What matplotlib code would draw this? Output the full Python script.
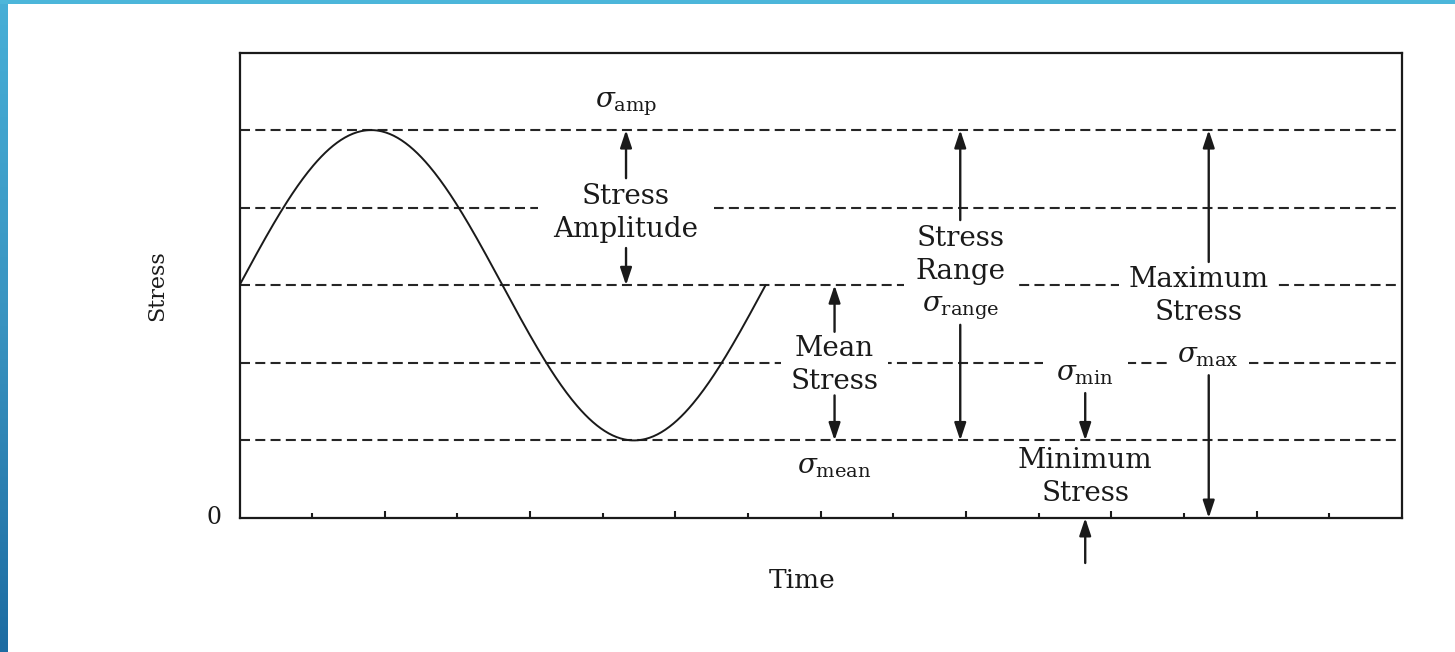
import numpy as np
import matplotlib
matplotlib.use("Agg")
import matplotlib.pyplot as plt
from matplotlib.colors import LinearSegmentedColormap

# ---------------- data ----------------
stress_levels = [1, 2, 3, 4, 5]          # dashed reference lines
sigma_max = 5.0
sigma_min = 1.0
sigma_mean = (sigma_max + sigma_min) / 2
period = 7.24                            # one full cycle drawn
time_ticks = list(range(1, 16))
x_limits = (0, 16)
y_limits = (0, 6)

plt.rcParams["font.family"] = ["DejaVu Serif"]
plt.rcParams["mathtext.fontset"] = "dejavuserif"
plt.rcParams["lines.scale_dashes"] = False

INK = "#1a1a1a"
W, H = 1455, 652
fig = plt.figure(figsize=(W / 100, H / 100), dpi=100)
fig.patch.set_facecolor("white")

# slide decoration: blue gradient stripes
cmap = LinearSegmentedColormap.from_list("slide", ["#47afd7", "#3993c0", "#1d6ca2"])
sax = fig.add_axes([0, 0, 8 / W, 1])
sax.imshow(np.linspace(0, 1, 256).reshape(-1, 1), aspect="auto", cmap=cmap)
sax.set_axis_off()
tax = fig.add_axes([0, 1 - 3.5 / H, 1, 3.5 / H])
tax.set_facecolor("#4cb6da")
tax.set_xticks([]); tax.set_yticks([])
for s in tax.spines.values():
    s.set_visible(False)

# main axes
ax = fig.add_axes([239.5 / W, (H - 518) / H, 1162.5 / W, 465.5 / H])
ax.set_xlim(*x_limits)
ax.set_ylim(*y_limits)
for s in ax.spines.values():
    s.set_linewidth(1.6)
    s.set_color(INK)

ax.set_xticks([t for t in time_ticks if t % 2 == 0])
ax.set_xticks([t for t in time_ticks if t % 2 == 1], minor=True)
ax.tick_params(axis="x", which="major", direction="in", length=5, width=1.5, colors=INK, labelbottom=False)
ax.tick_params(axis="x", which="minor", direction="in", length=3.5, width=1.5, colors=INK)
ax.set_yticks([])

# dashed reference lines
for lv in stress_levels:
    ax.axhline(lv, color="#262626", lw=1.5, dashes=(7.2, 3.8), zorder=1)

# sine wave
t = np.linspace(0, period, 400)
ax.plot(t, sigma_mean + (sigma_max - sigma_mean) * np.sin(2 * np.pi * t / period),
        color=INK, lw=1.4, zorder=2)

FS = 20


def arrow(x, y0, y1):
    ax.annotate("", xy=(x, y1), xytext=(x, y0), annotation_clip=False,
                arrowprops=dict(arrowstyle="-|>,head_length=0.75,head_width=0.25",
                                mutation_scale=14, lw=1.7, color=INK,
                                shrinkA=0, shrinkB=0), zorder=5)


def label(x, y, s, pad=None, size=FS, **kw):
    bbox = None if pad is None else dict(boxstyle=f"square,pad={pad}", fc="white", ec="none")
    ax.text(x, y, s, ha="center", va="center", fontsize=size, color=INK,
            bbox=bbox, zorder=4, clip_on=False, linespacing=1.28, **kw)


# stress amplitude
xa = 5.32
label(xa, 5.33, r"$\sigma_{\rm amp}$")
label(xa, 3.93, "Stress\nAmplitude", pad=0.55)
arrow(xa, 4.38, sigma_max)
arrow(xa, 3.48, sigma_mean)

# mean stress
xm = 8.19
label(xm, 1.97, "Mean\nStress", pad=0.35)
arrow(xm, 2.40, sigma_mean)
arrow(xm, 1.58, sigma_min)
label(xm, 0.66, r"$\sigma_{\rm mean}$")

# stress range
xr = 9.92
label(xr, 3.15, "Stress\nRange\n" + r"$\sigma_{\rm range}$", pad=0.4)
arrow(xr, 3.84, sigma_max)
arrow(xr, 2.49, sigma_min)

# minimum stress
xn = 11.64
label(xn, 1.86, r"$\sigma_{\rm min}$", pad=0.5)
arrow(xn, 1.61, sigma_min)
label(xn, 0.53, "Minimum\nStress")
arrow(xn, -0.58, 0)

# maximum stress
xx = 13.34
label(13.2, 2.86, "Maximum\nStress", pad=0.35)
label(13.33, 2.1, r"$\sigma_{\rm max}$", pad=0.35)
arrow(xx, 3.30, sigma_max)
arrow(xx, 1.84, 0)

# axis texts
ax.text(-0.35, 0, "0", ha="center", va="center", fontsize=17, color=INK)
ax.text(-1.13, 3.0, "Stress", ha="center", va="center", fontsize=16, rotation=90, color=INK)
ax.text(7.75, -0.8, "Time", ha="center", va="center", fontsize=19, color=INK)

fig.savefig("out.png", dpi=100, facecolor="white")
